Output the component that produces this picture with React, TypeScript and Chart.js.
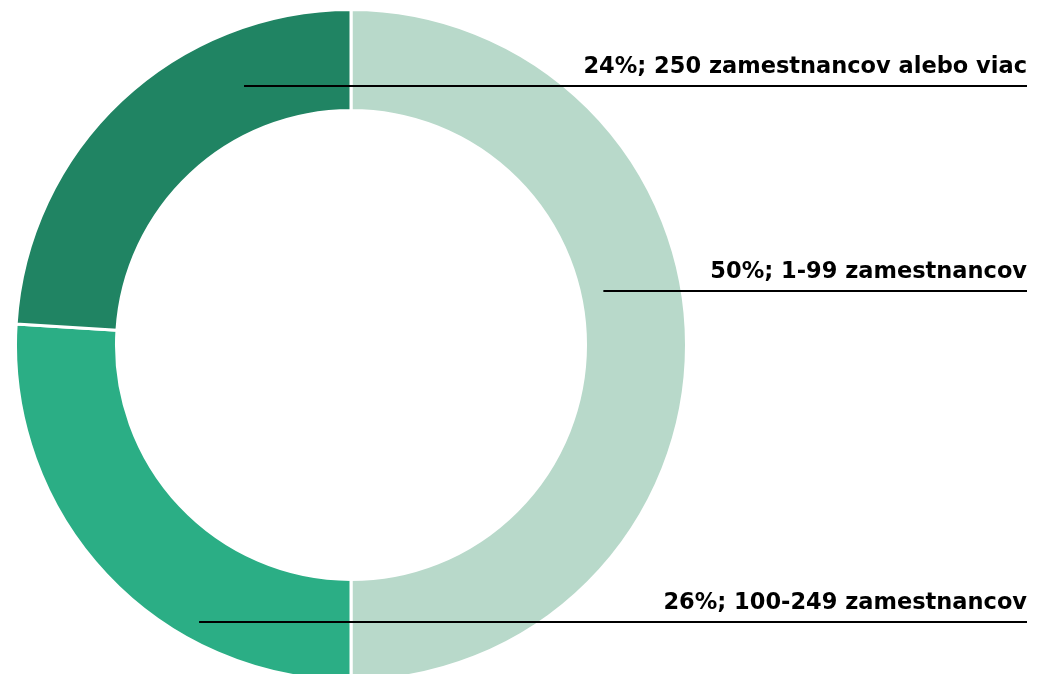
import React, { useEffect, useRef } from "react";
import { Chart, registerables } from "chart.js";

Chart.register(...registerables);

const categories = ["1-99 zamestnancov", "100-249 zamestnancov", "250 zamestnancov alebo viac"];
const shares = [50, 26, 24];
const sliceColors = ["#b8d9ca", "#2bae85", "#208463"];
// where each leader line leaves its slice: fraction along the arc, fraction across the ring
const leaderAlong = [0.433, 0.307, 0.74];
const leaderAcross = [0.233, 0.807, 0.45];

const W = 1044;
const H = 674;

const labelPlugin = {
  id: "leaderLabels",
  afterDraw(chart: any) {
    const { ctx } = chart;
    const meta = chart.getDatasetMeta(0);
    const rightX = chart.width - 17;
    ctx.save();
    meta.data.forEach((arc: any, i: number) => {
      const p = arc.getProps(["x", "y", "startAngle", "endAngle", "innerRadius", "outerRadius"], true);
      const a = p.startAngle + leaderAlong[i] * (p.endAngle - p.startAngle);
      const r = p.innerRadius + leaderAcross[i] * (p.outerRadius - p.innerRadius);
      const px = p.x + r * Math.cos(a);
      const py = Math.round(p.y + r * Math.sin(a));
      ctx.strokeStyle = "#000";
      ctx.lineWidth = 2.2;
      ctx.beginPath();
      ctx.moveTo(px, py);
      ctx.lineTo(rightX, py);
      ctx.stroke();
      ctx.fillStyle = "#000";
      ctx.font = "bold 22.5px 'DejaVu Sans'";
      ctx.textAlign = "right";
      ctx.textBaseline = "alphabetic";
      ctx.fillText(`${shares[i]}%; ${categories[i]}`, rightX, py - 13);
    });
    ctx.restore();
  },
};

export default function App() {
  const ref = useRef<HTMLCanvasElement>(null);
  useEffect(() => {
    if (!ref.current) return;
    const chart = new Chart(ref.current, {
      type: "doughnut",
      data: {
        labels: categories,
        datasets: [
          {
            data: shares,
            backgroundColor: sliceColors,
            borderColor: "#ffffff",
            borderWidth: 3,
            radius: 335.5,
            clip: false,
          } as any,
        ],
      },
      options: {
        responsive: false,
        animation: false,
        cutout: "69.9%",
        layout: { padding: { left: 0, right: 342, top: 16, bottom: 0 } },
        plugins: { legend: { display: false }, tooltip: { enabled: false } },
      },
      plugins: [labelPlugin],
    });
    return () => chart.destroy();
  }, []);
  return (
    <div style={{ position: "fixed", left: 0, top: 0, width: W, height: H, background: "#fff" }}>
      <canvas ref={ref} width={W} height={H} style={{ width: W, height: H, display: "block" }} />
    </div>
  );
}
